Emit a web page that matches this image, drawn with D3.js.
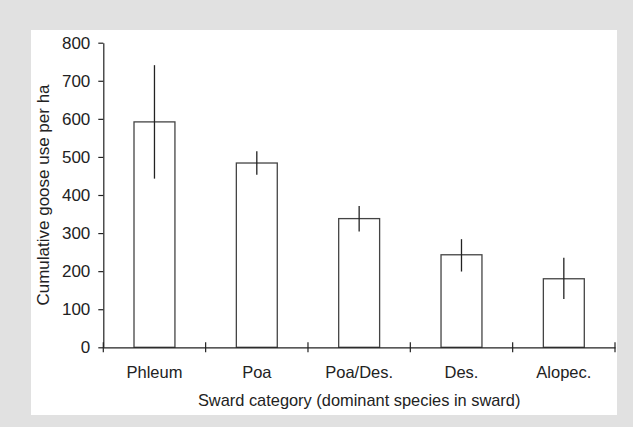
<!DOCTYPE html>
<meta charset="utf-8">
<style>
body { margin: 0; background: #e1e1e1; }
svg { display: block; }
text { font-family: "Liberation Sans", Arial, Helvetica, sans-serif; fill: #222; }
.axis path, .axis line { stroke: #222; stroke-width: 1.2; }
.axis text { font-size: 16.5px; }
.bar { fill: #fff; stroke: #444; stroke-width: 1.3; }
.err { stroke: #222; stroke-width: 1.3; }
</style>
<svg width="633" height="427"></svg>
<script src="https://cdn.jsdelivr.net/npm/d3@7"></script>
<script>
// values
var categories = ["Phleum", "Poa", "Poa/Des.", "Des.", "Alopec."];
var means = [592, 484, 338, 243, 180];
var errLow = [443, 453, 304, 199, 127];
var errHigh = [741, 515, 371, 284, 235];
var yTicks = [0, 100, 200, 300, 400, 500, 600, 700, 800];

var svg = d3.select("svg");

// white panel on gray page
svg.append("rect")
    .attr("x", 31).attr("y", 30)
    .attr("width", 586).attr("height", 385)
    .attr("fill", "#fff");

var x = d3.scaleBand()
    .domain(categories)
    .range([103.3, 615])
    .padding(0);

var y = d3.scaleLinear()
    .domain([0, 800])
    .range([347.3, 42.7]);

var barW = x.bandwidth() * 0.4;

// bars
svg.append("g").selectAll("rect")
    .data(categories)
  .enter().append("rect")
    .attr("class", "bar")
    .attr("x", function(d) { return x(d) + (x.bandwidth() - barW) / 2; })
    .attr("y", function(d, i) { return y(means[i]); })
    .attr("width", barW)
    .attr("height", function(d, i) { return y(0) - y(means[i]); });

// error bars
svg.append("g").selectAll("line")
    .data(categories)
  .enter().append("line")
    .attr("class", "err")
    .attr("x1", function(d) { return x(d) + x.bandwidth() / 2; })
    .attr("x2", function(d) { return x(d) + x.bandwidth() / 2; })
    .attr("y1", function(d, i) { return y(errLow[i]); })
    .attr("y2", function(d, i) { return y(errHigh[i]); });

// y axis
svg.append("g")
    .attr("class", "axis")
    .attr("transform", "translate(" + x.range()[0] + ",0)")
    .call(d3.axisLeft(y).tickValues(yTicks).tickSize(5).tickSizeOuter(0).tickPadding(8))
    .call(function(g) { g.selectAll("text").attr("fill", "#222").style("font-size", "17px"); });

// x axis (labels only, ticks at category boundaries)
var xAxis = svg.append("g")
    .attr("class", "axis")
    .attr("transform", "translate(0," + y(0) + ")")
    .call(d3.axisBottom(x).tickSize(0).tickSizeOuter(0).tickPadding(18.5));
xAxis.selectAll("text").attr("fill", "#222");

xAxis.selectAll("line.bound")
    .data(d3.range(categories.length + 1))
  .enter().append("line")
    .attr("class", "bound")
    .attr("x1", function(i) { return x.range()[0] + i * x.step(); })
    .attr("x2", function(i) { return x.range()[0] + i * x.step(); })
    .attr("y1", -5)
    .attr("y2", 5);

// axis titles
svg.append("text")
    .attr("x", (x.range()[0] + x.range()[1]) / 2)
    .attr("y", 405.5)
    .attr("text-anchor", "middle")
    .style("font-size", "16.4px")
    .text("Sward category (dominant species in sward)");

svg.append("text")
    .attr("transform", "translate(49," + (y(0) + y(800)) / 2 + ") rotate(-90)")
    .attr("text-anchor", "middle")
    .style("font-size", "17px")
    .text("Cumulative goose use per ha");
</script>
